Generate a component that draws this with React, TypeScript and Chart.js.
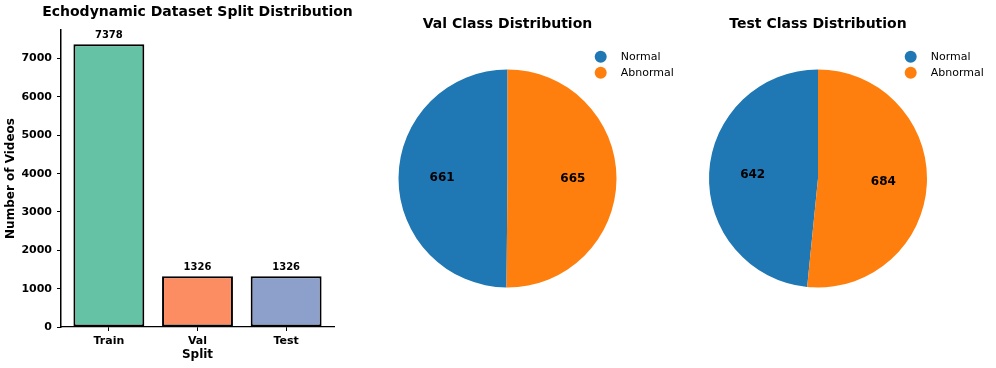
import React, { useEffect, useRef } from "react";
import { Chart, registerables } from "chart.js";

Chart.register(...registerables);

// ---------- data ----------
const splitLabels = ["Train", "Val", "Test"];
const splitCounts = [7378, 1326, 1326];
const splitColors = ["#66c2a5", "#fc8d62", "#8da0cb"];
const yTickStep = 1000;

const classLabels = ["Normal", "Abnormal"];
const valCounts = [661, 665];
const testCounts = [642, 684];
const classColors = ["#1f77b4", "#ff7f0e"];

const barTitle = "Echodynamic Dataset Split Distribution";
const valTitle = "Val Class Distribution";
const testTitle = "Test Class Distribution";

const FONT = "'DejaVu Sans', 'Liberation Sans', sans-serif";

const barValuePlugin = {
  id: "barValues",
  afterDatasetsDraw(chart: any) {
    const ctx = chart.ctx;
    const meta = chart.getDatasetMeta(0);
    const ds = chart.data.datasets[0].data as any[];
    ctx.save();
    ctx.font = `bold 10px ${FONT}`;
    ctx.fillStyle = "#000";
    ctx.textAlign = "center";
    ctx.textBaseline = "bottom";
    meta.data.forEach((el: any, i: number) => {
      ctx.fillText(String(ds[i].y), el.x, el.y - 4);
    });
    // title centred over the plot area
    const ca = chart.chartArea;
    ctx.font = `bold 14px ${FONT}`;
    ctx.textBaseline = "middle";
    ctx.fillText(barTitle, (ca.left + ca.right) / 2, 12);
    ctx.restore();
  },
};

function makePieDecor(legendX: number, legendY: number) {
  return {
    id: "pieDecor",
    afterDatasetsDraw(chart: any) {
      const ctx = chart.ctx;
      const meta = chart.getDatasetMeta(0);
      const values = chart.data.datasets[0].data as number[];
      ctx.save();
      ctx.font = `bold 12px ${FONT}`;
      ctx.fillStyle = "#000";
      ctx.textAlign = "center";
      ctx.textBaseline = "middle";
      meta.data.forEach((arc: any, i: number) => {
        const p = arc.getProps(["x", "y", "startAngle", "endAngle", "outerRadius"], true);
        const mid = (p.startAngle + p.endAngle) / 2;
        const r = p.outerRadius * 0.6;
        ctx.fillText(String(values[i]), p.x + Math.cos(mid) * r, p.y + Math.sin(mid) * r);
      });
      const labels = chart.data.labels as string[];
      const colors = chart.data.datasets[0].backgroundColor as string[];
      ctx.font = `11px ${FONT}`;
      ctx.textAlign = "left";
      labels.forEach((lab, i) => {
        const y = legendY + i * 16;
        ctx.beginPath();
        ctx.arc(legendX, y, 6, 0, Math.PI * 2);
        ctx.fillStyle = colors[i];
        ctx.fill();
        ctx.fillStyle = "#000";
        ctx.fillText(lab, legendX + 20, y + 0.5);
      });
      ctx.restore();
    },
  };
}

function BarPanel() {
  const ref = useRef<HTMLCanvasElement>(null);
  useEffect(() => {
    const yMax = Math.max(...splitCounts) * 1.05;
    const chart = new Chart(ref.current!, {
      type: "bar",
      data: {
        datasets: [
          {
            data: splitCounts.map((v, i) => ({ x: i, y: v })),
            backgroundColor: splitColors,
            borderColor: "#000",
            borderWidth: 2,
            borderSkipped: false,
            categoryPercentage: 1,
            barPercentage: 0.8,
          },
        ],
      },
      options: {
        responsive: false,
        animation: false,
        events: [],
        layout: { padding: { left: 0, right: 46, top: 30, bottom: 6 } },
        plugins: {
          legend: { display: false },
          tooltip: { enabled: false },
          title: { display: false },
        },
        scales: {
          x: {
            type: "linear",
            offset: false,
            min: -0.54,
            max: splitLabels.length - 1 + 0.54,
            afterBuildTicks: (scale: any) => {
              scale.ticks = splitLabels.map((_, i) => ({ value: i }));
            },
            afterFit: (scale: any) => {
              scale.height = 35;
            },
            ticks: {
              callback: (v: any) => splitLabels[v] ?? "",
              color: "#000",
              font: { family: FONT, size: 11, weight: "bold" },
              padding: 4,
              maxRotation: 0,
              autoSkip: false,
            },
            grid: {
              display: true,
              offset: false,
              drawOnChartArea: false,
              drawTicks: true,
              tickLength: 4,
              tickColor: "#000",
              tickWidth: 1,
            },
            border: { display: true, color: "#000", width: 1.25, z: 1 },
            title: {
              display: true,
              text: "Split",
              color: "#000",
              font: { family: FONT, size: 12, weight: "bold", lineHeight: 1.2 },
              padding: 0,
            },
          },
          y: {
            min: 0,
            max: yMax,
            afterBuildTicks: (scale: any) => {
              const t: any[] = [];
              for (let v = 0; v <= yMax; v += yTickStep) t.push({ value: v });
              scale.ticks = t;
            },
            afterFit: (scale: any) => {
              scale.width = 61;
            },
            ticks: {
              callback: (v: any) => String(v),
              color: "#000",
              font: { family: FONT, size: 11, weight: "bold" },
              padding: 5,
              autoSkip: false,
            },
            grid: {
              display: true,
              drawOnChartArea: false,
              drawTicks: true,
              tickLength: 4,
              tickColor: "#000",
              tickWidth: 1,
            },
            border: { display: true, color: "#000", width: 1.5 },
            title: {
              display: true,
              text: "Number of Videos",
              color: "#000",
              font: { family: FONT, size: 12, weight: "bold", lineHeight: 1.2 },
              padding: { top: 4, bottom: 0 },
            },
          },
        },
      } as any,
      plugins: [barValuePlugin],
    });
    return () => chart.destroy();
  }, []);
  return (
    <canvas
      ref={ref}
      width={380}
      height={368}
      style={{ position: "absolute", left: 0, top: 0, width: 380, height: 368, display: "block" }}
    />
  );
}

function PiePanel(props: {
  left: number;
  width: number;
  padLeft: number;
  padRight: number;
  title: string;
  values: number[];
}) {
  const ref = useRef<HTMLCanvasElement>(null);
  useEffect(() => {
    const total = props.values.reduce((a, b) => a + b, 0);
    const rotation = -(props.values[0] / total) * 360;
    const chart = new Chart(ref.current!, {
      type: "pie",
      data: {
        labels: classLabels,
        datasets: [
          {
            data: props.values,
            backgroundColor: classColors,
            borderWidth: 0,
            hoverOffset: 0,
          },
        ],
      },
      options: {
        responsive: false,
        animation: false,
        events: [],
        rotation,
        layout: { padding: { left: props.padLeft, right: props.padRight, top: 0, bottom: 80.5 } },
        plugins: {
          legend: { display: false },
          tooltip: { enabled: false },
          title: {
            display: true,
            fullSize: false,
            text: props.title,
            color: "#000",
            font: { family: FONT, size: 14, weight: "bold", lineHeight: 1.2 },
            padding: { top: 15.6, bottom: 37.1 },
          },
        },
      } as any,
      plugins: [makePieDecor(220.7, 56.7)],
    });
    return () => chart.destroy();
  }, []);
  return (
    <canvas
      ref={ref}
      width={props.width}
      height={368}
      style={{ position: "absolute", left: props.left, top: 0, width: props.width, height: 368, display: "block" }}
    />
  );
}

export default function App() {
  return (
    <div
      style={{
        position: "fixed",
        left: 0,
        top: 0,
        width: 996,
        height: 368,
        background: "#fff",
        overflow: "hidden",
      }}
    >
      <BarPanel />
      <PiePanel left={380} width={310} padLeft={18.5} padRight={73.5} title={valTitle} values={valCounts} />
      <PiePanel left={690} width={306} padLeft={19} padRight={69} title={testTitle} values={testCounts} />
    </div>
  );
}
